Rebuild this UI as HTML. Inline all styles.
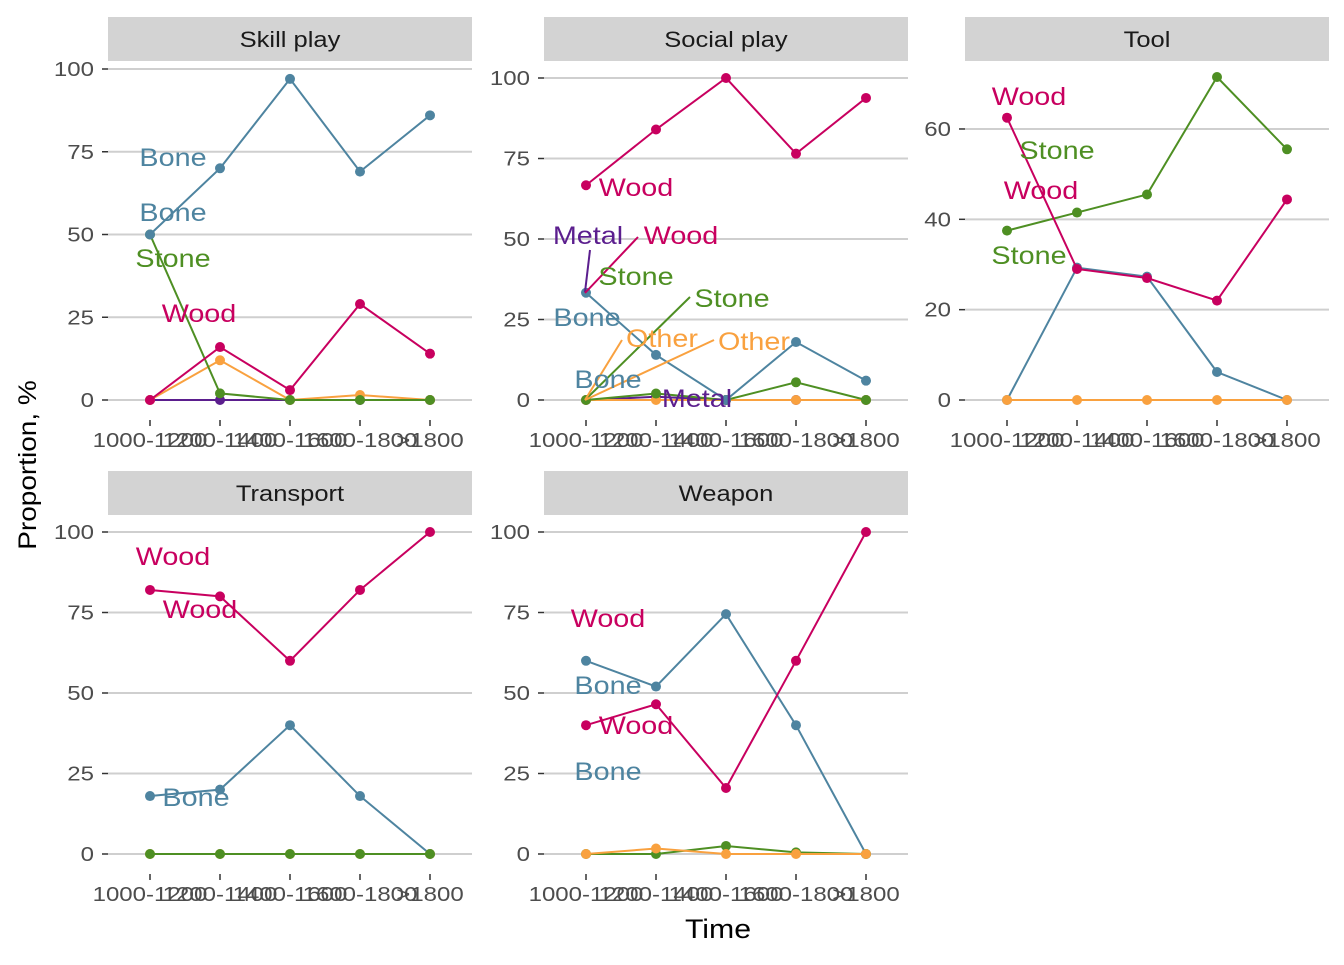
<!DOCTYPE html>
<html><head><meta charset="utf-8"><style>
body{margin:0;background:#fff}
svg{font-family:"Liberation Sans",Arial,sans-serif}
</style></head><body>
<svg id="c" width="1344" height="960" xmlns="http://www.w3.org/2000/svg"></svg>
<script>
const categories=["1000-1200","1200-1400","1400-1600","1600-1800",">1800"];
const materials=["Bone","Wood","Stone","Other","Metal"];
const skillBone=[50,70,97,69,86], skillWood=[0,16,3,29,14], skillStone=[50,2,0,0,0], skillOther=[0,12,0,1.5,0], skillMetal=[0,0,0,0,0];
const socialBone=[33.3,14,0,18,6], socialWood=[66.7,84,100,76.5,93.8], socialStone=[0,2,0,5.5,0], socialOther=[0,0,0,0,0], socialMetal=[0,1,0,0,0];
const toolBone=[0,29.3,27.3,6.2,0], toolWood=[62.5,29,27,22,44.4], toolStone=[37.5,41.5,45.5,71.5,55.5], toolOther=[0,0,0,0,0];
const transBone=[18,20,40,18,0], transWood=[82,80,60,82,100], transStone=[0,0,0,0,0], transOther=[0,0,0,0,0];
const weapBone=[60,52,74.5,40,0], weapWood=[40,46.5,20.5,60,100], weapStone=[0,0,2.5,0.5,0], weapOther=[0,1.7,0,0,0];
const ticks100=[0,25,50,75,100], ticksTool=[0,20,40,60];
const colors={Bone:"#4E84A0",Wood:"#C8005F",Stone:"#4E8F23",Other:"#F9A13F",Metal:"#5B1E8E"};
const svg=document.getElementById('c');
const NS="http://www.w3.org/2000/svg";
function mk(t,a,p){const e=document.createElementNS(NS,t);for(const k in a)e.setAttribute(k,a[k]);(p||svg).appendChild(e);return e;}
function widen(t,f){const w=t.getComputedTextLength();t.setAttribute('textLength',w*f);t.setAttribute('lengthAdjust','spacingAndGlyphs');}
const panels=[
 {name:"Skill play",x0:108,x1:472,top:17,bottom:420,y0:400,k:3.31,ticks:ticks100,series:{Metal:skillMetal,Other:skillOther,Stone:skillStone,Wood:skillWood,Bone:skillBone},
  labels:[["Bone",173,157],["Bone",173,212],["Stone",173,258],["Wood",199,313]]},
 {name:"Social play",x0:544,x1:908,top:17,bottom:420,y0:400,k:3.22,ticks:ticks100,series:{Metal:socialMetal,Other:socialOther,Stone:socialStone,Bone:socialBone,Wood:socialWood},
  labels:[["Wood",636,187],["Metal",588,235],["Wood",681,235],["Stone",636,276],["Stone",732,298],["Bone",587,317],["Other",662,338],["Other",754,341],["Bone",608,379],["Metal",697,398]],
  segs:[["Metal",590,250,585,292],["Wood",638,237,585,293],["Stone",690,297,585,400],["Other",622,340,585,400],["Other",714,340,585,400]]},
 {name:"Tool",x0:965,x1:1329,top:17,bottom:420,y0:400,k:4.517,ticks:ticksTool,series:{Bone:toolBone,Stone:toolStone,Wood:toolWood,Other:toolOther},
  labels:[["Wood",1029,96],["Stone",1057,150],["Wood",1041,190],["Stone",1029,255]]},
 {name:"Transport",x0:108,x1:472,top:471,bottom:874,y0:854,k:3.22,ticks:ticks100,series:{Bone:transBone,Wood:transWood,Other:transOther,Stone:transStone},
  labels:[["Wood",173,556],["Wood",200,609],["Bone",196,797]]},
 {name:"Weapon",x0:544,x1:908,top:471,bottom:874,y0:854,k:3.22,ticks:ticks100,series:{Bone:weapBone,Wood:weapWood,Stone:weapStone,Other:weapOther},
  labels:[["Wood",608,618],["Bone",608,685],["Wood",636,725],["Bone",608,771]]}
];
panels.forEach(p=>{
  const g=mk('g',{});
  
  
  const sx=i=>p.x0+42+i*70, sy=v=>p.y0-v*p.k;
  const st=mk('rect',{x:p.x0,y:p.top,width:p.x1-p.x0,height:44,fill:"#d3d3d3"},g);
  
  const stt=mk('text',{x:(p.x0+p.x1)/2,y:p.top+30,'text-anchor':'middle','font-size':22,fill:"#1a1a1a"},g);stt.textContent=p.name;
  
  widen(stt,1.16);
  p.ticks.forEach(t=>{
    const gl=mk('line',{x1:p.x0,x2:p.x1,y1:sy(t),y2:sy(t),stroke:"#cfcfcf","stroke-width":2},g);
    
    const tl=mk('text',{x:p.x0-14,y:sy(t)+7,'text-anchor':'end','font-size':20,fill:"#4d4d4d"},g);tl.textContent=t;
    
    widen(tl,1.2);
    mk('line',{x1:p.x0-6,x2:p.x0,y1:sy(t),y2:sy(t),stroke:"#333","stroke-width":1.5},g);
  });
  categories.forEach((c,i)=>{
    mk('line',{x1:sx(i),x2:sx(i),y1:p.bottom,y2:p.bottom+6,stroke:"#333","stroke-width":1.5},g);
    const xl=mk('text',{x:sx(i),y:p.bottom+27,'text-anchor':'middle','font-size':20,fill:"#4d4d4d"},g);xl.textContent=c;
    
    widen(xl,1.2);
  });
  for(const m in p.series){
    const vals=p.series[m];
    const pl=mk('polyline',{points:vals.map((v,i)=>sx(i)+','+sy(v)).join(' '),fill:'none',stroke:colors[m],'stroke-width':2},g);
    
    vals.forEach((v,i)=>{
      const c=mk('circle',{cx:sx(i),cy:sy(v),r:5,fill:colors[m]},g);
      
    });
  }
  (p.segs||[]).forEach(s=>{mk('line',{x1:s[1],y1:s[2],x2:s[3],y2:s[4],stroke:colors[s[0]],'stroke-width':2},g);});
  p.labels.forEach(l=>{
    const t=mk('text',{x:l[1],y:l[2]+9,'text-anchor':'middle','font-size':25,fill:colors[l[0]]},g);t.textContent=l[0];
    
    widen(t,1.15);
  });
});
const yt=mk('text',{x:0,y:0,transform:'translate(36,465) rotate(-90)','text-anchor':'middle','font-size':25,fill:"#000"});yt.textContent="Proportion, %";

widen(yt,1.12);
const xt=mk('text',{x:718,y:938,'text-anchor':'middle','font-size':27,fill:"#000"});xt.textContent="Time";

widen(xt,1.12);
</script>
</body></html>
